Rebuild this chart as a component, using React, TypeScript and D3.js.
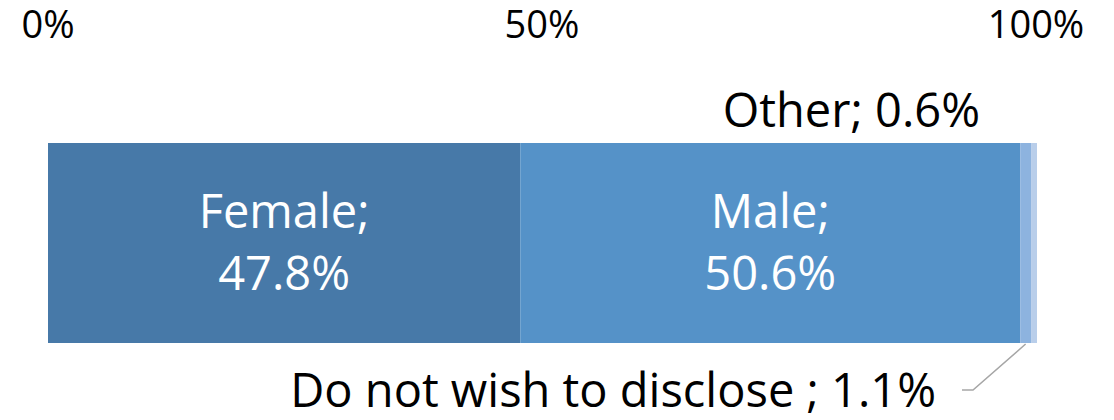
import React from "react";
import * as d3 from "d3";

const categories = ["Female", "Male", "Do not wish to disclose ", "Other"];
const values = [47.8, 50.6, 1.1, 0.6];
const tickValues = [0, 50, 100];
const tickLabels = ["0%", "50%", "100%"];

const colors = ["#4779A8", "#5592C8", "#8DB3DF", "#B9CEEA"];

export default function App() {
  const width = 1114;
  const height = 420;
  const x = d3.scaleLinear().domain([0, 100]).range([48, 1036]);
  const barTop = 143;
  const barBottom = 343;
  const font = "'Open Sans', sans-serif";

  let acc = 0;
  const segs = values.map((v, i) => {
    const s = { start: acc, end: acc + v, v, name: categories[i], color: colors[i] };
    acc += v;
    return s;
  });

  const dnw = segs[2];
  const dnwMid = x((dnw.start + dnw.end) / 2);

  return (
    <svg
      width={width}
      height={height}
      style={{ position: "absolute", left: 0, top: 0, background: "#fff" }}
      fontFamily={font}
    >
      {tickValues.map((t, i) => (
        <text key={t} x={x(t)} y={38} textAnchor="middle" fontSize={38} fill="#000">
          {tickLabels[i]}
        </text>
      ))}
      {segs.map((s) => (
        <rect
          key={s.name}
          x={x(s.start)}
          y={barTop}
          width={x(s.end) - x(s.start)}
          height={barBottom - barTop}
          fill={s.color}
        />
      ))}
      {segs.slice(0, 2).map((s) => {
        const cx = (x(s.start) + x(s.end)) / 2;
        return (
          <text key={s.name + "l"} x={cx} textAnchor="middle" fontSize={47} fill="#fff">
            <tspan x={cx} y={228}>{s.name};</tspan>
            <tspan x={cx} y={290}>{s.v.toFixed(1)}%</tspan>
          </text>
        );
      })}
      <text x={980} y={127} textAnchor="end" fontSize={47} fill="#000">
        {segs[3].name}; {segs[3].v.toFixed(1)}%
      </text>
      <polyline
        points={`${dnwMid},${barBottom + 1} ${973},${390} ${962},${390}`}
        fill="none"
        stroke="#A6A6A6"
        strokeWidth={1.5}
      />
      <text x={936} y={407} textAnchor="end" fontSize={47} fill="#000">
        {dnw.name}; {dnw.v.toFixed(1)}%
      </text>
    </svg>
  );
}
